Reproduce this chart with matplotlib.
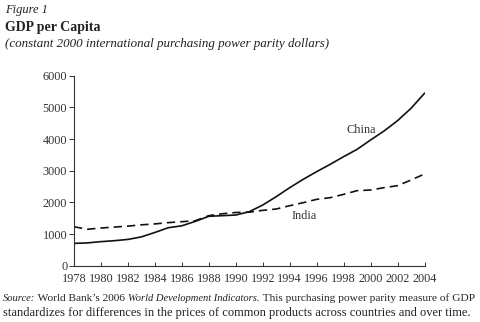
import matplotlib
matplotlib.use("Agg")
import matplotlib.pyplot as plt

plt.rcParams["font.family"] = ["Liberation Serif", "DejaVu Serif"]

years = list(range(1978, 2005))
china = [705, 720, 760, 790, 830, 910, 1050, 1200, 1260, 1400, 1560, 1580, 1600, 1705,
         1916, 2180, 2464, 2727, 2970, 3200, 3443, 3675, 3970, 4254, 4580, 4970, 5444]
india = [1230, 1150, 1190, 1220, 1250, 1290, 1320, 1360, 1390, 1420, 1580, 1640, 1680, 1690,
         1748, 1790, 1895, 1990, 2095, 2148, 2253, 2370, 2390, 2464, 2527, 2706, 2896]
xticks = list(range(1978, 2005, 2))
yticks = [0, 1000, 2000, 3000, 4000, 5000, 6000]

TXT = "#222222"

fig = plt.figure(figsize=(4.8, 3.22), dpi=100)
ax = fig.add_axes([74 / 480, 1 - 265.7 / 322, (424.5 - 74) / 480, 190 / 322])

ax.plot(years, china, color="#111111", linewidth=1.2)
ax.plot(years, india, color="#111111", linewidth=1.2, linestyle=(0, (5, 3)))

ax.set_xlim(1978, 2004)
ax.set_ylim(0, 6000)
ax.set_xticks(xticks)
ax.set_yticks(yticks)
ax.tick_params(axis="x", direction="in", length=3, width=0.7, labelsize=8.8,
               colors="#333333", pad=5)
ax.tick_params(axis="y", direction="out", length=3.4, width=0.7, labelsize=8.8,
               colors="#333333", pad=1.5)
for s in ["top", "right"]:
    ax.spines[s].set_visible(False)
for s in ["left", "bottom"]:
    ax.spines[s].set_linewidth(0.8)
    ax.spines[s].set_color("#333333")

ax.text(1999.3, 4286, "China", fontsize=8.8, color="#333333", ha="center", va="center")
ax.text(1995.1, 1580, "India", fontsize=8.8, color="#333333", ha="center", va="center")

fig.text(5 / 480, 1 - 10 / 322, "Figure 1", fontsize=9, style="italic", color=TXT, va="center")
fig.text(5 / 480, 1 - 27 / 322, "GDP per Capita", fontsize=10, weight="bold", color=TXT, va="center")
fig.text(5 / 480, 1 - 44 / 322, "(constant 2000 international purchasing power parity dollars)",
         fontsize=9.4, style="italic", color=TXT, va="center")

# source line: mixed roman / italic pieces laid end to end
pieces = [("Source:", "italic", 7.6), (" World Bank\u2019s 2006 ", "normal", 8.2),
          ("World Development Indicators.", "italic", 7.6),
          (" This purchasing power parity measure of GDP", "normal", 8.2)]
renderer = fig.canvas.get_renderer()
x = 3
for s, st, fs in pieces:
    t = fig.text(x / 480, 1 - 301 / 322, s, fontsize=fs, style=st, color=TXT, va="baseline")
    x += t.get_window_extent(renderer).width
fig.text(3 / 480, 1 - 313 / 322,
         "standardizes for differences in the prices of common products across countries and over time.",
         fontsize=9.0, color=TXT, va="center")

fig.savefig("out.png", dpi=100)
